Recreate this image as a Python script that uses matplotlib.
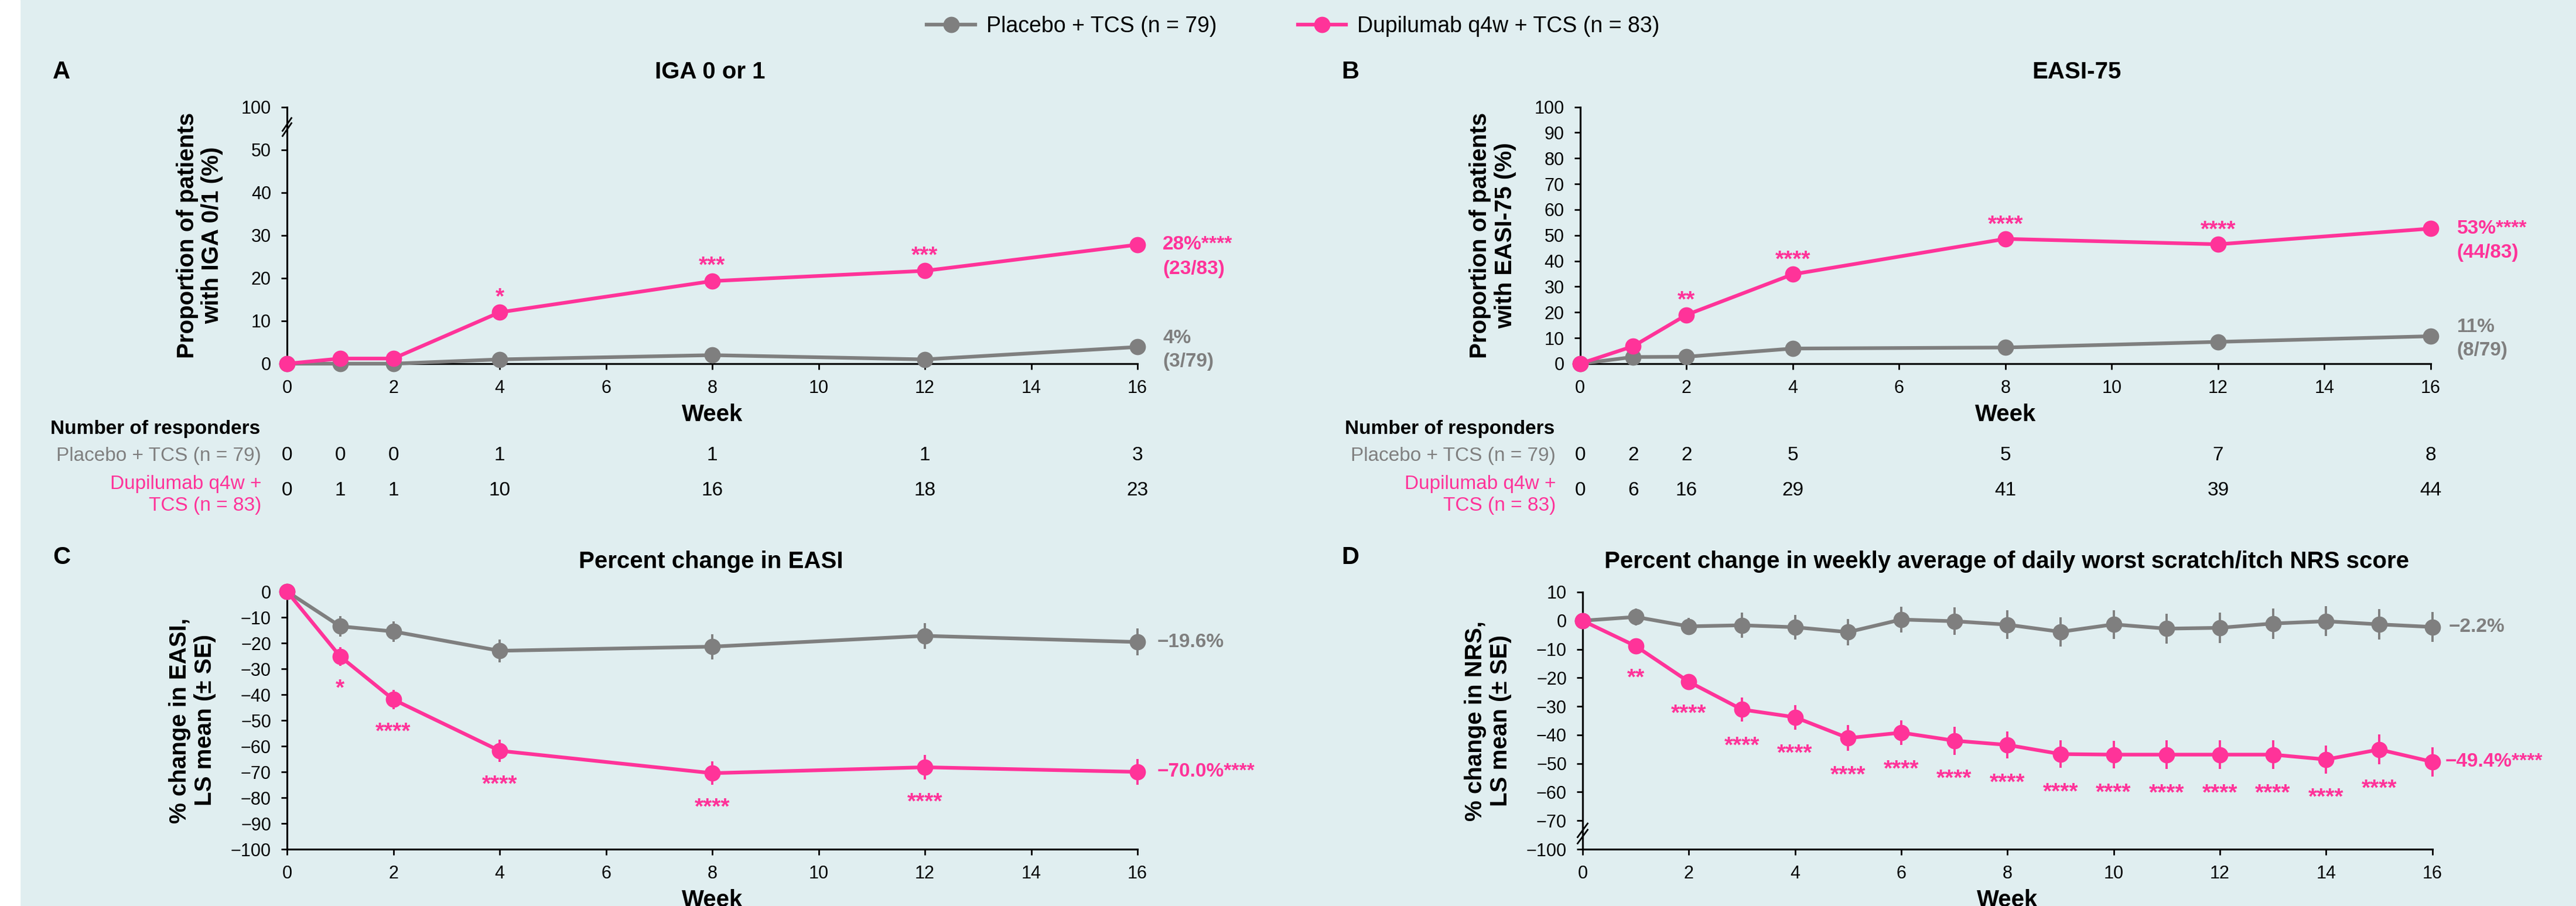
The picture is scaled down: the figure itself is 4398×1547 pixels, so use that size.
import numpy as np
import matplotlib.pyplot as plt
from matplotlib.lines import Line2D
from matplotlib.patches import Rectangle
import matplotlib.transforms as mtransforms

plt.rcParams['font.family'] = ['Liberation Sans', 'DejaVu Sans']

BG = '#e0eef0'
PINK = '#ff3399'
GRAY = '#7f7f7f'

# ---- data ----
weeks_ab = [0, 1, 2, 4, 8, 12, 16]

# A: IGA 0/1 (%)
iga_pbo = [0, 0, 0, 1.0, 2.0, 1.0, 3.9]
iga_dup = [0, 1.2, 1.2, 12.0, 19.3, 21.7, 27.8]
iga_stars = ['', '', '', '*', '***', '***', '']
iga_resp_pbo = [0, 0, 0, 1, 1, 1, 3]
iga_resp_dup = [0, 1, 1, 10, 16, 18, 23]

# B: EASI-75 (%)
e75_pbo = [0, 2.6, 2.7, 5.9, 6.3, 8.5, 10.7]
e75_dup = [0, 6.8, 19.0, 34.8, 48.6, 46.5, 52.6]
e75_stars = ['', '', '**', '****', '****', '****', '']
e75_resp_pbo = [0, 2, 2, 5, 5, 7, 8]
e75_resp_dup = [0, 6, 16, 29, 41, 39, 44]

# C: % change in EASI, LS mean +/- SE
easi_pbo = [0, -13.5, -15.5, -23.0, -21.4, -17.2, -19.6]
easi_pbo_se = [0, 4.0, 4.0, 4.4, 4.9, 5.0, 5.2]
easi_dup = [0, -25.2, -41.9, -61.8, -70.5, -68.2, -70.0]
easi_dup_se = [0, 3.6, 3.8, 4.3, 4.5, 4.7, 5.0]
easi_stars = ['', '*', '****', '****', '****', '****', '']

# D: % change in weekly NRS
weeks_d = list(range(17))
nrs_pbo = [0, 1.3, -2.0, -1.6, -2.3, -4.0, 0.4, -0.2, -1.4, -3.9, -1.3,
           -2.8, -2.5, -1.0, -0.2, -1.3, -2.2]
nrs_pbo_se = [0, 2.9, 2.9, 4.4, 4.3, 4.6, 4.5, 4.8, 5.1, 5.1, 5.0,
              5.2, 5.4, 5.3, 5.2, 5.3, 5.2]
nrs_dup = [0, -8.9, -21.4, -31.1, -33.8, -41.1, -39.2, -42.0, -43.5, -46.7,
           -46.9, -46.9, -46.9, -46.9, -48.6, -45.1, -49.4]
nrs_dup_se = [0, 2.7, 2.8, 4.3, 4.3, 4.5, 4.4, 4.9, 4.8, 4.9, 4.9,
              5.1, 5.1, 5.1, 4.9, 5.2, 5.1]
nrs_stars = ['', '**'] + ['****'] * 14 + ['']

LW = 4.5
MS = 20
W, H = 4398, 1547

fig = plt.figure(figsize=(W / 100, H / 100), dpi=100, facecolor=BG)
fig.patches.append(Rectangle((0, 0), 34 / W, 1, transform=fig.transFigure,
                             color='white', zorder=0))


def px(x, y):
    # pixel position (from top-left) -> figure fraction
    return x / W, 1 - y / H


def make_ax(x0, y0, x1, y1):
    l, t = px(x0, y0)
    r, b = px(x1, y1)
    ax = fig.add_axes([l, b, r - l, t - b])
    ax.set_facecolor('none')
    for s in ['top', 'right']:
        ax.spines[s].set_visible(False)
    for s in ['left', 'bottom']:
        ax.spines[s].set_linewidth(2.3)
    ax.tick_params(width=2, length=7.5, labelsize=22, pad=12, direction='out')
    ax.set_xlim(0, 16)
    ax.set_xticks(range(0, 17, 2))
    ax.set_xlabel('Week', fontsize=29, fontweight='bold', labelpad=8)
    return ax


def break_marks(ax, yc, dy, gap, dx):
    tr = mtransforms.blended_transform_factory(ax.transAxes, ax.transData)
    for c in (yc - gap / 2, yc + gap / 2):
        ax.plot([-dx, dx], [c - dy, c + dy], color='black', lw=2,
                transform=tr, clip_on=False, zorder=5)


def star_labels(ax, xs, ys, stars, offset, size=28):
    for x, y, s in zip(xs, ys, stars):
        if s:
            ax.annotate(s, (x, y), xytext=(0, offset), textcoords='offset points',
                        ha='center', va='baseline', color=PINK, fontsize=size,
                        fontweight='bold', annotation_clip=False)


def end_label(ax, x, y, text, color, dx, dy, size=24):
    ax.annotate(text, (x, y), xytext=(dx, dy), textcoords='offset points',
                ha='left', va='center', color=color, fontsize=size,
                fontweight='bold', annotation_clip=False)


def responders(ax, x_label, pbo, dup):
    fig.text(*px(x_label - 360, 732), 'Number of responders', fontsize=24,
             fontweight='bold', ha='left', va='center')
    fig.text(*px(x_label, 778), 'Placebo + TCS (n = 79)', fontsize=24,
             color=GRAY, ha='right', va='center')
    fig.text(*px(x_label, 845), 'Dupilumab q4w +\nTCS (n = 83)', fontsize=24,
             color=PINK, ha='right', va='center', multialignment='right',
             linespacing=1.25)
    tr = mtransforms.blended_transform_factory(ax.transData, fig.transFigure)
    for x, a, b in zip(weeks_ab, pbo, dup):
        ax.text(x, px(0, 778)[1], str(a), transform=tr, ha='center',
                va='center', fontsize=24, clip_on=False)
        ax.text(x, px(0, 838)[1], str(b), transform=tr, ha='center',
                va='center', fontsize=24, clip_on=False)


line_kw = dict(marker='o', lw=LW, ms=MS, mew=0, clip_on=False)

# ---------------- Panel A ----------------
axA = make_ax(490, 182.5, 1942, 621)
axA.set_ylim(0, 60)
axA.set_yticks([0, 10, 20, 30, 40, 50, 60])
axA.set_yticklabels(['0', '10', '20', '30', '40', '50', '100'])
axA.plot(weeks_ab, iga_pbo, color=GRAY, zorder=3, **line_kw)
axA.plot(weeks_ab, iga_dup, color=PINK, zorder=4, **line_kw)
axA.set_ylabel('Proportion of patients\nwith IGA 0/1 (%)', fontsize=29,
               fontweight='bold', labelpad=22, linespacing=1.15)
break_marks(axA, 55.3, 1.5, 1.2, 0.0052)
star_labels(axA, weeks_ab, iga_dup, iga_stars, 11)
end_label(axA, 16, iga_dup[-1], '28%****', PINK, 31, 0)
end_label(axA, 16, iga_dup[-1], '(23/83)', PINK, 31, -30)
end_label(axA, 16, iga_pbo[-1], '4%', GRAY, 31, 11)
end_label(axA, 16, iga_pbo[-1], '(3/79)', GRAY, 31, -18)
fig.text(*px(105, 123), 'A', fontsize=30, fontweight='bold', ha='center', va='center')
fig.text(*px(1212, 123), 'IGA 0 or 1', fontsize=29, fontweight='bold',
         ha='center', va='center')
responders(axA, 446, iga_resp_pbo, iga_resp_dup)

# ---------------- Panel B ----------------
axB = make_ax(2697.6, 182.5, 4150, 621)
axB.set_ylim(0, 100)
axB.set_yticks(range(0, 101, 10))
axB.plot(weeks_ab, e75_pbo, color=GRAY, zorder=3, **line_kw)
axB.plot(weeks_ab, e75_dup, color=PINK, zorder=4, **line_kw)
axB.set_ylabel('Proportion of patients\nwith EASI-75 (%)', fontsize=29,
               fontweight='bold', labelpad=22, linespacing=1.15)
star_labels(axB, weeks_ab, e75_dup, e75_stars, 10)
end_label(axB, 16, e75_dup[-1], '53%****', PINK, 32, 0)
end_label(axB, 16, e75_dup[-1], '(44/83)', PINK, 32, -29.5)
end_label(axB, 16, e75_pbo[-1], '11%', GRAY, 32, 11)
end_label(axB, 16, e75_pbo[-1], '(8/79)', GRAY, 32, -17.5)
fig.text(*px(2305, 123), 'B', fontsize=30, fontweight='bold', ha='center', va='center')
fig.text(*px(3545, 123), 'EASI-75', fontsize=29, fontweight='bold',
         ha='center', va='center')
responders(axB, 2656, e75_resp_pbo, e75_resp_dup)

# ---------------- Panel C ----------------
err_kw = dict(marker='o', lw=LW, ms=MS, mew=0, capsize=12, capthick=3,
              elinewidth=2.8, clip_on=False)
axC = make_ax(490, 1010, 1942, 1450)
axC.set_ylim(-100, 0)
axC.set_yticks(range(-100, 1, 10))
axC.errorbar(weeks_ab, easi_pbo, yerr=easi_pbo_se, color=GRAY, zorder=3, **err_kw)
axC.errorbar(weeks_ab, easi_dup, yerr=easi_dup_se, color=PINK, zorder=4, **err_kw)
axC.set_ylabel('% change in EASI,\nLS mean (± SE)', fontsize=29,
               fontweight='bold', labelpad=18, linespacing=1.15)
star_labels(axC, weeks_ab, np.array(easi_dup) - np.array(easi_dup_se),
            easi_stars, -35.5)
end_label(axC, 16, easi_pbo[-1], '\u221219.6%', GRAY, 24, 0)
end_label(axC, 16, easi_dup[-1], '\u221270.0%****', PINK, 24, 0)
fig.text(*px(105, 952), 'C', fontsize=30, fontweight='bold', ha='center', va='center')
fig.text(*px(1214, 959), 'Percent change in EASI', fontsize=29,
         fontweight='bold', ha='center', va='center')

# ---------------- Panel D ----------------
axD = make_ax(2702, 1011, 4152.6, 1450)
axD.set_ylim(-80, 10)
axD.set_yticks([-80, -70, -60, -50, -40, -30, -20, -10, 0, 10])
axD.set_yticklabels(['\u2212100', '\u221270', '\u221260', '\u221250', '\u221240',
                     '\u221230', '\u221220', '\u221210', '0', '10'])
axD.errorbar(weeks_d, nrs_pbo, yerr=nrs_pbo_se, color=GRAY, zorder=3, **err_kw)
axD.errorbar(weeks_d, nrs_dup, yerr=nrs_dup_se, color=PINK, zorder=4, **err_kw)
axD.set_ylabel('% change in NRS,\nLS mean (± SE)', fontsize=29,
               fontweight='bold', labelpad=18, linespacing=1.15)
break_marks(axD, -74.5, 2.4, 2.2, 0.0059)
star_labels(axD, weeks_d, np.array(nrs_dup) - np.array(nrs_dup_se),
            nrs_stars, -37.5)
end_label(axD, 16, nrs_pbo[-1], '\u22122.2%', GRAY, 20, 0)
end_label(axD, 16, nrs_dup[-1], '\u221249.4%****', PINK, 16, 0)
fig.text(*px(2305, 952), 'D', fontsize=30, fontweight='bold', ha='center', va='center')
fig.text(*px(3426, 959),
         'Percent change in weekly average of daily worst scratch/itch NRS score',
         fontsize=29, fontweight='bold', ha='center', va='center')

# ---------------- legend ----------------
handles = [Line2D([], [], color=GRAY, marker='o', lw=LW, ms=MS, mew=0),
           Line2D([], [], color=PINK, marker='o', lw=LW, ms=MS, mew=0)]
fig.legend(handles, ['Placebo + TCS (n = 79)', 'Dupilumab q4w + TCS (n = 83)'],
           loc='center', bbox_to_anchor=(*px(2208, 45),), ncol=2, frameon=False,
           fontsize=27, handlelength=2.2, handletextpad=0.5, columnspacing=3.7)

fig.savefig('out.png', dpi=100, facecolor=BG)
